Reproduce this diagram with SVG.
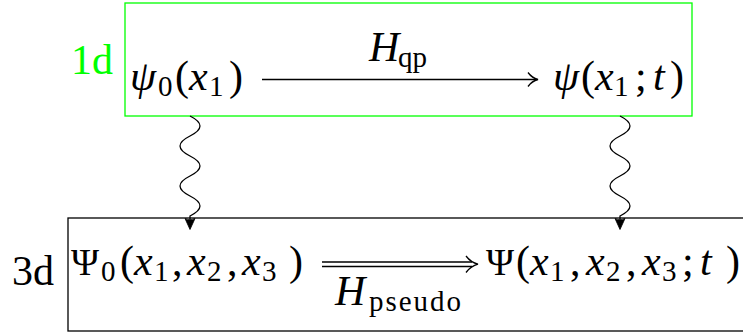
<svg xmlns="http://www.w3.org/2000/svg" width="743" height="335" viewBox="0 0 743 335">
<style>
text{font-family:"Liberation Serif","DejaVu Serif",serif;fill:#000}
.m{font-size:42px}
.i{font-style:italic}
.s{font-size:29px}
.cap{font-size:38px}
.green{fill:#00ff00}
.box{fill:none;stroke-width:1.3}
.ln{fill:none;stroke:#000;stroke-width:1.3}
.hd{fill:#000;stroke:#000;stroke-width:0.8;stroke-linejoin:round}
</style>
<rect width="743" height="335" fill="#fff"/>
<g id="node-1d">
<rect class="box" x="125" y="3" width="567" height="113" stroke="#00ff00"/>
<text class="m green" x="71" y="74">1d</text>
</g>
<g id="node-psi0">
<text class="m"><tspan class="i" x="130" y="90">ψ</tspan><tspan class="s" x="158" y="96">0</tspan><tspan x="175" y="90">(</tspan><tspan class="i" x="189" y="90">x</tspan><tspan class="s" x="209" y="96">1</tspan><tspan x="229" y="90">)</tspan></text>
</g>
<g id="node-psi">
<text class="m"><tspan class="i" x="553" y="90">ψ</tspan><tspan x="581" y="90">(</tspan><tspan class="i" x="595" y="90">x</tspan><tspan class="s" x="614" y="96">1</tspan><tspan x="635" y="90">;</tspan><tspan class="i" x="653" y="90">t</tspan><tspan x="670" y="90">)</tspan></text>
</g>
<g id="node-3d">
<rect class="box" x="68" y="218" width="690" height="113" stroke="#000"/>
<text class="m" x="12" y="285">3d</text>
</g>
<g id="node-Psi0">
<text class="m"><tspan class="cap" x="71" y="275">Ψ</tspan><tspan class="s" x="101" y="281">0</tspan><tspan x="120" y="275">(</tspan><tspan class="i" x="134" y="275">x</tspan><tspan class="s" x="154" y="281">1</tspan><tspan x="172" y="275">,</tspan><tspan class="i" x="187" y="275">x</tspan><tspan class="s" x="207" y="281">2</tspan><tspan x="227" y="275">,</tspan><tspan class="i" x="242" y="275">x</tspan><tspan class="s" x="262" y="281">3</tspan><tspan x="289" y="275">)</tspan></text>
</g>
<g id="node-Psi">
<text class="m"><tspan class="cap" x="486" y="275">Ψ</tspan><tspan x="516" y="275">(</tspan><tspan class="i" x="530" y="275">x</tspan><tspan class="s" x="550" y="281">1</tspan><tspan x="570" y="275">,</tspan><tspan class="i" x="586" y="275">x</tspan><tspan class="s" x="606" y="281">2</tspan><tspan x="626" y="275">,</tspan><tspan class="i" x="642" y="275">x</tspan><tspan class="s" x="662" y="281">3</tspan><tspan x="682" y="275">;</tspan><tspan class="i" x="700" y="275">t</tspan><tspan x="726" y="275">)</tspan></text>
</g>
<g id="connectors">
<path class="ln" d="M262,79.5 H536"/>
<path class="ln" d="M528,72.5 Q532,78 538,79.5 Q532,81 528,86.5"/>
<text class="m"><tspan class="i" x="369" y="61">H</tspan><tspan class="s" x="398" y="67">qp</tspan></text>
<path class="ln" d="M322,262 H472 M322,266.5 H472"/>
<path class="ln" d="M466,256 Q471,262.5 478,264.2 Q471,266 466,272.5"/>
<text class="m"><tspan class="i" x="335" y="305">H</tspan><tspan class="s" x="369" y="311" textLength="92">pseudo</tspan></text>
<path class="ln" d="M190,116 C203.3,122.7 203.3,129.3 190,136 C176.7,142.7 176.7,149.3 190,156 C203.3,162.7 203.3,169.3 190,176 C176.7,182.7 176.7,189.3 190,196 C203.3,202.7 203.3,209.3 190,216 L190,221"/>
<path class="hd" d="M190,229.5 L185,218.5 Q190,221.5 195,218.5 Z"/>
<path class="ln" d="M620,116 C633.3,122.7 633.3,129.3 620,136 C606.7,142.7 606.7,149.3 620,156 C633.3,162.7 633.3,169.3 620,176 C606.7,182.7 606.7,189.3 620,196 C633.3,202.7 633.3,209.3 620,216 L620,221"/>
<path class="hd" d="M620,229.5 L615,218.5 Q620,221.5 625,218.5 Z"/>
</g>
</svg>
